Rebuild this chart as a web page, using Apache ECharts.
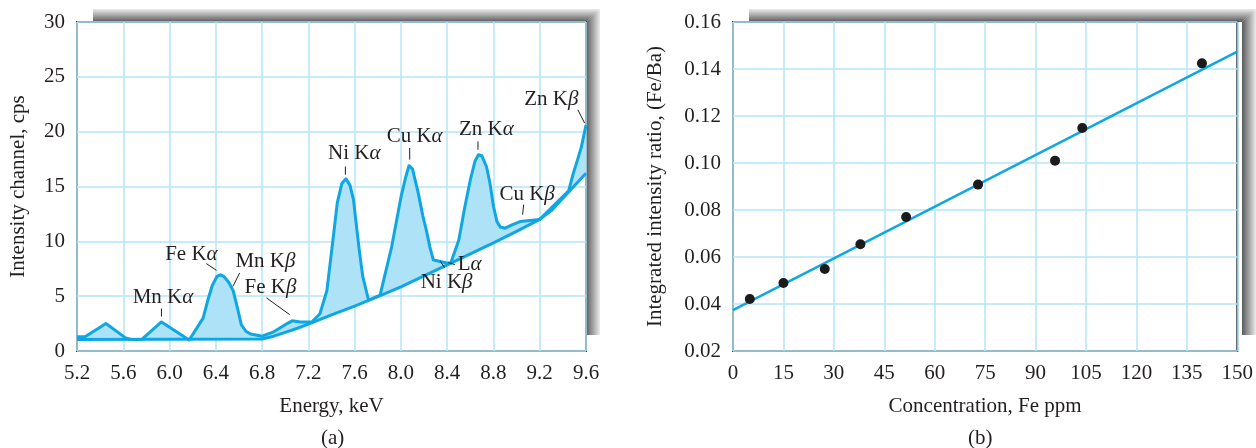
<!DOCTYPE html>
<html>
<head>
<meta charset="utf-8">
<script src="https://cdn.jsdelivr.net/npm/echarts@6/dist/echarts.min.js"></script>
<style>
html,body{margin:0;padding:0;background:#fff;}
#chart{width:1256px;height:448px;}
</style>
</head>
<body>
<div id="chart"></div>
<script>
// ---------- Data: panel (a) X-ray fluorescence spectrum ----------
const energyTicks = [5.2, 5.6, 6.0, 6.4, 6.8, 7.2, 7.6, 8.0, 8.4, 8.8, 9.2, 9.6];
const spectrum = [
  [5.20,1.3],[5.27,1.3],[5.45,2.5],[5.62,1.2],[5.67,1.05],[5.76,1.05],[5.93,2.65],[6.17,1.0],
  [6.29,3.0],[6.33,4.6],[6.37,6.0],[6.41,6.8],[6.44,6.95],[6.47,6.8],[6.51,6.3],[6.55,5.5],
  [6.59,3.8],[6.62,2.4],[6.66,1.8],[6.70,1.55],[6.80,1.35],[6.90,1.75],[7.00,2.4],[7.06,2.75],
  [7.13,2.65],[7.23,2.65],[7.30,3.4],[7.36,5.5],[7.41,9.9],[7.45,13.5],[7.49,15.3],[7.525,15.7],
  [7.56,15.1],[7.59,13.8],[7.62,11.0],[7.64,9.2],[7.67,6.8],[7.72,4.65],[7.82,5.1],[7.92,9.5],
  [8.00,14.0],[8.04,15.8],[8.07,16.9],[8.10,16.6],[8.15,14.4],[8.19,12.3],[8.22,11.0],[8.25,9.5],
  [8.28,8.3],[8.39,8.05],[8.43,8.0],[8.50,10.1],[8.55,13.0],[8.60,15.6],[8.64,17.3],[8.67,17.9],
  [8.70,17.8],[8.74,16.8],[8.77,15.3],[8.80,13.2],[8.83,11.8],[8.86,11.3],[8.90,11.2],[8.96,11.5],
  [9.03,11.8],[9.20,12.0],[9.45,14.6],[9.49,16.2],[9.52,17.2],[9.56,18.6],[9.60,20.6]
];
const background = [
  [5.20,1.05],[6.80,1.1],[6.90,1.35],[7.00,1.7],[7.10,2.05],[7.20,2.45],[7.40,3.3],[7.60,4.1],
  [7.80,4.95],[8.00,5.85],[8.20,6.85],[8.40,7.85],[8.60,8.85],[8.80,9.85],[9.00,10.9],[9.20,12.0],
  [9.30,12.8],[9.45,14.5],[9.60,16.2]
];
// peak labels: text, italic Greek letter, label centre (keV, cps), leader line (keV, cps)
const peakNames  = ['Mn K','Fe K','Mn K','Fe K','Ni K','Cu K','Zn K','Cu K','Zn K','L','Ni K'];
const peakGreek  = ['α','α','β','β','α','α','α','β','β','α','β'];
const peakLabelAt = [[5.943,4.85],[6.189,8.79],[6.829,8.18],[6.872,5.76],[7.597,17.99],[8.119,19.56],
                     [8.738,20.17],[9.091,14.25],[9.300,22.9],[8.594,7.88],[8.395,6.21]];
const peakLeaders = [[5.93,3.87,5.93,3.14],[6.318,7.97,6.405,7.36],[6.606,7.12,6.548,5.90],
                     [6.837,4.85,7.038,3.32],[7.52,16.83,7.52,16.08],[8.076,18.51,8.076,17.45],
                     [8.666,19.11,8.666,18.35],[9.061,13.34,9.052,12.43],[9.530,21.99,9.588,20.78],
                     [8.41,8.06,8.466,7.88],[8.341,8.18,8.378,7.58]];

// ---------- Data: panel (b) calibration ----------
const concTicks = [0, 15, 30, 45, 60, 75, 90, 105, 120, 135, 150];
const concentration = [5.0, 15.0, 27.3, 37.9, 51.5, 72.9, 95.8, 103.9, 139.5];
const intensityRatio = [0.0421, 0.0489, 0.0549, 0.0654, 0.0770, 0.0908, 0.1010, 0.1149, 0.1424];
const fitLine = [[0, 0.0374], [150, 0.1474]];

// ---------- Style / layout ----------
const FONT = '"Liberation Serif", "DejaVu Serif", serif';
const FS = 21;
const TXT = '#231f20';
const BLUE = '#0fa7e3';
const FILL = '#aee2f7';
const GRIDC = '#b5e4f8';
const FRAME = '#3a3f44';
const G0 = {left: 77, top: 22, width: 509, height: 329};
const G1 = {left: 733, top: 22, width: 509, height: 329};

function shadow(g, startX) {
  const r = g.left + g.width, t = g.top, d = 14, b = g.top + g.height - 16;
  return [
    {type: 'polygon', silent: true, z: -1,
     shape: {points: [[startX, t - d + 1], [r + d, t - d + 1], [r, t], [startX, t]]},
     style: {fill: new echarts.graphic.LinearGradient(0, 0, 0, 1,
       [{offset: 0, color: '#ececec'}, {offset: 1, color: '#5a5a5a'}])}},
    {type: 'polygon', silent: true, z: -1,
     shape: {points: [[r, t], [r + d, t - d + 1], [r + d, b], [r, b]]},
     style: {fill: new echarts.graphic.LinearGradient(0, 0, 1, 0,
       [{offset: 0, color: '#5a5a5a'}, {offset: 1, color: '#ececec'}])}}
  ];
}

const axisLabel = (fmt) => ({fontFamily: FONT, fontSize: FS, color: TXT, margin: 12, formatter: fmt});
const nameStyle = {fontFamily: FONT, fontSize: FS, color: TXT};
const splitLine = {show: true, lineStyle: {color: GRIDC, width: 1.5}};

const chart = echarts.init(document.getElementById('chart'), null, {renderer: 'canvas'});
chart.setOption({
  animation: false,
  backgroundColor: '#fff',
  grid: [
    Object.assign({show: true, borderColor: FRAME, borderWidth: 2, backgroundColor: '#fff'}, G0),
    Object.assign({show: true, borderColor: FRAME, borderWidth: 2, backgroundColor: '#fff'}, G1)
  ],
  xAxis: [
    {type: 'value', gridIndex: 0, min: energyTicks[0], max: energyTicks[energyTicks.length - 1], interval: 0.4,
     axisLine: {show: false}, axisTick: {show: false}, splitLine,
     axisLabel: axisLabel(v => v.toFixed(1)),
     name: 'Energy, keV', nameLocation: 'middle', nameGap: 45, nameTextStyle: nameStyle},
    {type: 'value', gridIndex: 1, min: concTicks[0], max: concTicks[concTicks.length - 1], interval: 15,
     axisLine: {show: false}, axisTick: {show: false}, splitLine,
     axisLabel: axisLabel(v => String(v)),
     name: 'Concentration, Fe ppm', nameLocation: 'middle', nameGap: 45, nameTextStyle: nameStyle}
  ],
  yAxis: [
    {type: 'value', gridIndex: 0, min: 0, max: 30, interval: 5,
     axisLine: {show: false}, axisTick: {show: false}, splitLine,
     axisLabel: axisLabel(v => String(v)),
     name: 'Intensity channel, cps', nameLocation: 'middle', nameGap: 48, nameTextStyle: nameStyle},
    {type: 'value', gridIndex: 1, min: 0.02, max: 0.16, interval: 0.02,
     axisLine: {show: false}, axisTick: {show: false}, splitLine,
     axisLabel: axisLabel(v => v.toFixed(2)),
     name: 'Integrated intensity ratio, (Fe/Ba)', nameLocation: 'middle', nameGap: 67, nameTextStyle: nameStyle}
  ],
  graphic: [
    ...shadow(G0, 93),
    ...shadow(G1, 749),
    {type: 'text', left: 321, top: 428, style: {text: '(a)', font: FS + 'px ' + FONT, fill: TXT}},
    {type: 'text', left: 968, top: 428, style: {text: '(b)', font: FS + 'px ' + FONT, fill: TXT}}
  ],
  series: [
    // filled area between spectrum and background
    {type: 'custom', xAxisIndex: 0, yAxisIndex: 0, silent: true, z: 1,
     data: [[energyTicks[0], 0]],
     renderItem: (params, api) => {
       const pts = spectrum.map(p => api.coord(p))
         .concat(background.slice().reverse().map(p => api.coord(p)));
       return {type: 'polygon', shape: {points: pts}, style: {fill: FILL}};
     }},
    {type: 'line', xAxisIndex: 0, yAxisIndex: 0, data: background, symbol: 'none', z: 3,
     lineStyle: {color: BLUE, width: 3, join: 'round'}},
    {type: 'line', xAxisIndex: 0, yAxisIndex: 0, data: spectrum, symbol: 'none', z: 4,
     lineStyle: {color: BLUE, width: 3, join: 'round'}},
    // peak annotations
    {type: 'custom', xAxisIndex: 0, yAxisIndex: 0, silent: true, z: 5,
     data: peakLabelAt,
     renderItem: (params, api) => {
       const i = params.dataIndex;
       const c = api.coord(peakLabelAt[i]);
       const L = peakLeaders[i];
       const a = api.coord([L[0], L[1]]), b = api.coord([L[2], L[3]]);
       return {type: 'group', children: [
         {type: 'line', shape: {x1: a[0], y1: a[1], x2: b[0], y2: b[1]},
          style: {stroke: TXT, lineWidth: 1}},
         {type: 'text', x: c[0], y: c[1],
          style: {text: '{n|' + peakNames[i] + '}{g|' + peakGreek[i] + '}',
                  align: 'center', verticalAlign: 'middle',
                  rich: {n: {fontFamily: FONT, fontSize: FS, fill: TXT, color: TXT},
                         g: {fontFamily: FONT, fontSize: FS, fontStyle: 'italic', fill: TXT, color: TXT}}}}
       ]};
     }},
    // panel (b)
    {type: 'line', xAxisIndex: 1, yAxisIndex: 1, data: fitLine, symbol: 'none', z: 3,
     lineStyle: {color: BLUE, width: 2.5}},
    {type: 'scatter', xAxisIndex: 1, yAxisIndex: 1, z: 4,
     data: concentration.map((c, i) => [c, intensityRatio[i]]),
     symbol: 'circle', symbolSize: 10, itemStyle: {color: '#1b1b1b', opacity: 1}}
  ]
});
</script>
</body>
</html>
